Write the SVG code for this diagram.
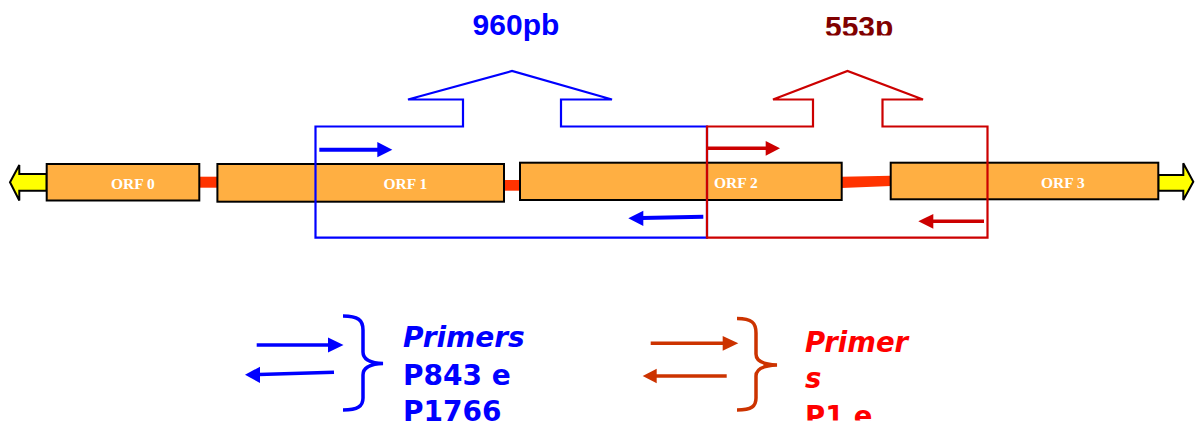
<svg xmlns="http://www.w3.org/2000/svg" width="1196" height="426" viewBox="0 0 1196 426">
<style>
.orf{fill:#FFAF42;stroke:#000;stroke-width:2}
.orfl{font-family:"Liberation Serif",serif;font-weight:bold;font-size:15.5px;fill:#FFFFFF}
.link{fill:#FF3300}
.yel{fill:#FFFF00;stroke:#000;stroke-width:2;stroke-linejoin:miter}
.bl{fill:none;stroke:#0000FF;stroke-width:2.2}
.rd{fill:none;stroke:#CC0000;stroke-width:2.2}
.big{font-family:"Liberation Sans",Arial,sans-serif;font-weight:bold;font-size:30px}
.leg{font-family:"DejaVu Sans",Verdana,sans-serif;font-weight:bold;font-size:28px}
.legr{font-family:"DejaVu Sans",Verdana,sans-serif;font-weight:bold;font-size:27.5px}
.it{font-style:oblique}
</style>
<defs>
<clipPath id="c553"><rect x="800" y="0" width="150" height="35.5"/></clipPath>
<clipPath id="cred"><rect x="790" y="300" width="200" height="120.5"/></clipPath>
<clipPath id="cblue"><rect x="390" y="300" width="200" height="122"/></clipPath>
</defs>
<rect width="1196" height="426" fill="#FFFFFF"/>

<g id="connectors">
<rect class="link" x="199" y="176.7" width="18.5" height="11"/>
<rect class="link" x="504" y="180" width="16" height="10.7"/>
<polygon class="link" points="841.7,176.7 891,175.7 891,186 841.7,188"/>
</g>

<g id="end-left">
<polygon class="yel" points="46.7,174 19.3,174 19.3,165 10,182.3 19.3,200.5 19.3,190.7 46.7,190.7"/>
</g>
<g id="end-right">
<polygon class="yel" points="1158.3,175 1183.3,175 1183.3,163.3 1193.3,181.7 1183.3,200 1183.3,190.7 1158.3,190.7"/>
</g>

<g id="orf0">
<rect class="orf" x="46.7" y="164" width="152.6" height="36.5"/>
<text class="orfl" x="111" y="189">ORF 0</text>
</g>
<g id="orf1">
<rect class="orf" x="217.4" y="164" width="286.6" height="37.7"/>
<text class="orfl" x="383.5" y="189">ORF 1</text>
</g>
<g id="orf2">
<rect class="orf" x="520" y="162.7" width="321.7" height="37.3"/>
<text class="orfl" x="714" y="188">ORF 2</text>
</g>
<g id="orf3">
<rect class="orf" x="890.7" y="162.7" width="267.6" height="36.6"/>
<text class="orfl" x="1041" y="188">ORF 3</text>
</g>

<g id="amplicon-960">
<path class="bl" d="M315.5,126.5 H463 V99.5 H408 L512,71 L612,99.5 H561 V126.5 H707 V237.7 H315.5 Z"/>
<line x1="319.3" y1="149.7" x2="378" y2="149.7" stroke="#0000FF" stroke-width="4"/>
<polygon fill="#0000FF" points="377.3,142 392.3,149.7 377.3,157.3"/>
<line x1="703.3" y1="216.7" x2="642" y2="217.9" stroke="#0000FF" stroke-width="4"/>
<polygon fill="#0000FF" points="643.3,210.7 628.3,218.3 643.3,226"/>
<text class="big" x="472.6" y="34.5" fill="#0000FF">960pb</text>
</g>

<g id="amplicon-553">
<path class="rd" d="M707,126.5 H813 V99.5 H773 L847.5,71 L923,99.5 H882.5 V126.5 H987.5 V237.7 H707 Z"/>
<line x1="708" y1="148.3" x2="766.5" y2="148.3" stroke="#CC0000" stroke-width="3.6"/>
<polygon fill="#CC0000" points="765.7,141 780,148.3 765.7,155.7"/>
<line x1="984" y1="221.2" x2="932" y2="221.2" stroke="#CC0000" stroke-width="3.6"/>
<polygon fill="#CC0000" points="933.3,214 918.3,221.3 933.3,228.7"/>
<text class="big" x="825" y="36.5" fill="#800000" clip-path="url(#c553)">553p</text>
</g>

<g id="legend-blue">
<line x1="256.7" y1="345" x2="329" y2="345" stroke="#0000FF" stroke-width="3.5"/>
<polygon fill="#0000FF" points="328,337.5 343.5,345 328,352.5"/>
<line x1="334" y1="372.3" x2="259" y2="374.5" stroke="#0000FF" stroke-width="3.5"/>
<polygon fill="#0000FF" points="260,366.7 245,374.8 260,383"/>
<path fill="none" stroke="#0000FF" stroke-width="3.5" d="M343,316 C358,316 363,320 363,330 V352 C363,360 370,363 383,363.5 C370,364 363,367 363,375 V398 C363,406 358,410 343,410"/>
<g clip-path="url(#cblue)" fill="#0000FF">
<text class="leg it" x="403" y="346.7">Primers</text>
<text class="leg" x="403" y="385">P843 e</text>
<text class="leg" x="403" y="421">P1766</text>
</g>
</g>

<g id="legend-red">
<line x1="650.7" y1="343.3" x2="723.5" y2="343.3" stroke="#CC3300" stroke-width="3.5"/>
<polygon fill="#CC3300" points="722.7,336 738.3,343.3 722.7,350.7"/>
<line x1="726.7" y1="376" x2="656" y2="376" stroke="#CC3300" stroke-width="3.5"/>
<polygon fill="#CC3300" points="656.7,368.7 642.7,376 656.7,383.3"/>
<path fill="none" stroke="#CC3300" stroke-width="3.5" d="M737,318.5 C752,318.5 756,323 756,333 V354 C756,361 763,364.5 777,365 C763,365.5 756,369 756,376 V398 C756,406 752,410 737,410"/>
<g clip-path="url(#cred)" fill="#FF0000">
<text class="legr it" x="805" y="352.3">Primer</text>
<text class="legr it" x="805" y="388.3">s</text>
<text class="legr" x="805" y="426">P1 e</text>
</g>
</g>
</svg>
